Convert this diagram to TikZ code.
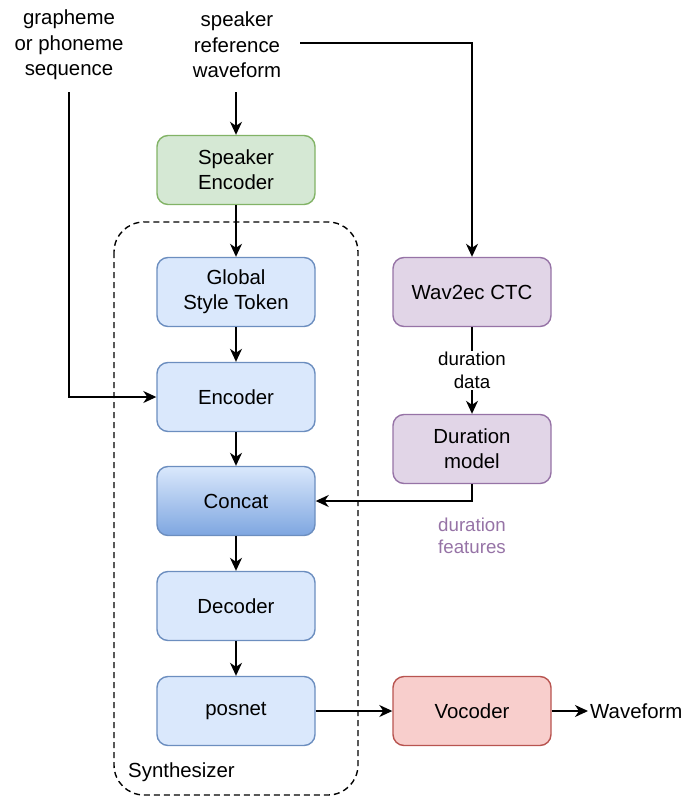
\documentclass[tikz,border=0pt]{standalone}
\usepackage{fontspec}
\setmainfont{Liberation Sans}
\usetikzlibrary{arrows.meta,positioning}

\definecolor{greenfill}{HTML}{D5E8D4}
\definecolor{greenline}{HTML}{82B366}
\definecolor{bluefill}{HTML}{DAE8FC}
\definecolor{blueline}{HTML}{6C8EBF}
\definecolor{bluedeep}{HTML}{7EA6E0}
\definecolor{purplefill}{HTML}{E1D5E7}
\definecolor{purpleline}{HTML}{9673A6}
\definecolor{redfill}{HTML}{F8CECC}
\definecolor{redline}{HTML}{B85450}

\tikzset{
  mainfont/.style={font=\fontsize{20.4}{25.3}\selectfont},
  smallfont/.style={font=\fontsize{18.7}{22.6}\selectfont},
  block/.style={mainfont, draw, line width=1.4pt, rounded corners=11pt,
    minimum width=158pt, minimum height=69pt, inner sep=0pt, align=center},
  greenblock/.style={block, fill=greenfill, draw=greenline},
  blueblock/.style={block, fill=bluefill, draw=blueline},
  gradblock/.style={block, top color=bluefill, bottom color=bluedeep, draw=blueline},
  purpleblock/.style={block, fill=purplefill, draw=purpleline},
  redblock/.style={block, fill=redfill, draw=redline},
  textlabel/.style={mainfont, align=center, inner sep=0pt},
  arr/.style={line width=1.5pt, -{Stealth[length=13pt,width=12pt,inset=4pt]}},
  group/.style={draw, line width=1.4pt, dash pattern=on 6pt off 4pt, rounded corners=30pt}
}

\begin{document}
\begin{tikzpicture}[x=1pt,y=-1pt]
  \useasboundingbox (0,0) rectangle (686,798);

  % dashed frame around the synthesizer
  \draw[group] (114,222) rectangle (358,795);
  \node[mainfont, anchor=west, inner sep=0pt] (synth) at (128,772) {Synthesizer};

  % inputs
  \node[textlabel] (seq) at (69,45) {grapheme\\or phoneme\\sequence};
  \node[textlabel] (ref) at (237,45) {speaker\\reference\\waveform};
  \coordinate (seqout) at (69,92);
  \coordinate (refdown) at (236,92);
  \coordinate (refright) at (300,43);

  % synthesizer chain
  \node[greenblock]  (spkenc) at (236,170) {Speaker\\Encoder};
  \node[blueblock]   (gst)    at (236,292) {Global\\Style Token};
  \node[blueblock]   (enc)    at (236,397) {Encoder};
  \node[gradblock]   (concat) at (236,501) {Concat};
  \node[blueblock]   (dec)    at (236,606) {Decoder};
  \node[blueblock]   (post)   at (236,711) {posnet};

  % duration branch and vocoder
  \node[purpleblock] (ctc)    at (472,292) {Wav2ec CTC};
  \node[purpleblock] (durm)   at (472,449) {Duration\\model};
  \node[redblock]    (voc)    at (472,711) {Vocoder};
  \node[mainfont, anchor=west, inner sep=0pt] (wave) at (590,711) {Waveform};

  \node[smallfont, align=center, inner sep=0pt, text=purpleline] (durfeat) at (472,536) {duration\\features};

  % connectors
  \draw[arr] (refdown) -- (spkenc.north);
  \draw[arr] (spkenc.south) -- (gst.north);
  \draw[arr] (gst.south) -- (enc.north);
  \draw[arr] (enc.south) -- (concat.north);
  \draw[arr] (concat.south) -- (dec.north);
  \draw[arr] (dec.south) -- (post.north);
  \draw[arr] (seqout) |- (enc.west);
  \draw[arr] (refright) -| (ctc.north);
  \draw[arr] (ctc.south) -- node[smallfont, fill=white, align=center, inner sep=1pt] (durdata) {duration\\data} (durm.north);
  \draw[arr] (durm.south) |- (concat.east);
  \draw[arr] (post.east) -- (voc.west);
  \draw[arr] (voc.east) -- ([xshift=-2pt]wave.west);
\end{tikzpicture}
\end{document}
